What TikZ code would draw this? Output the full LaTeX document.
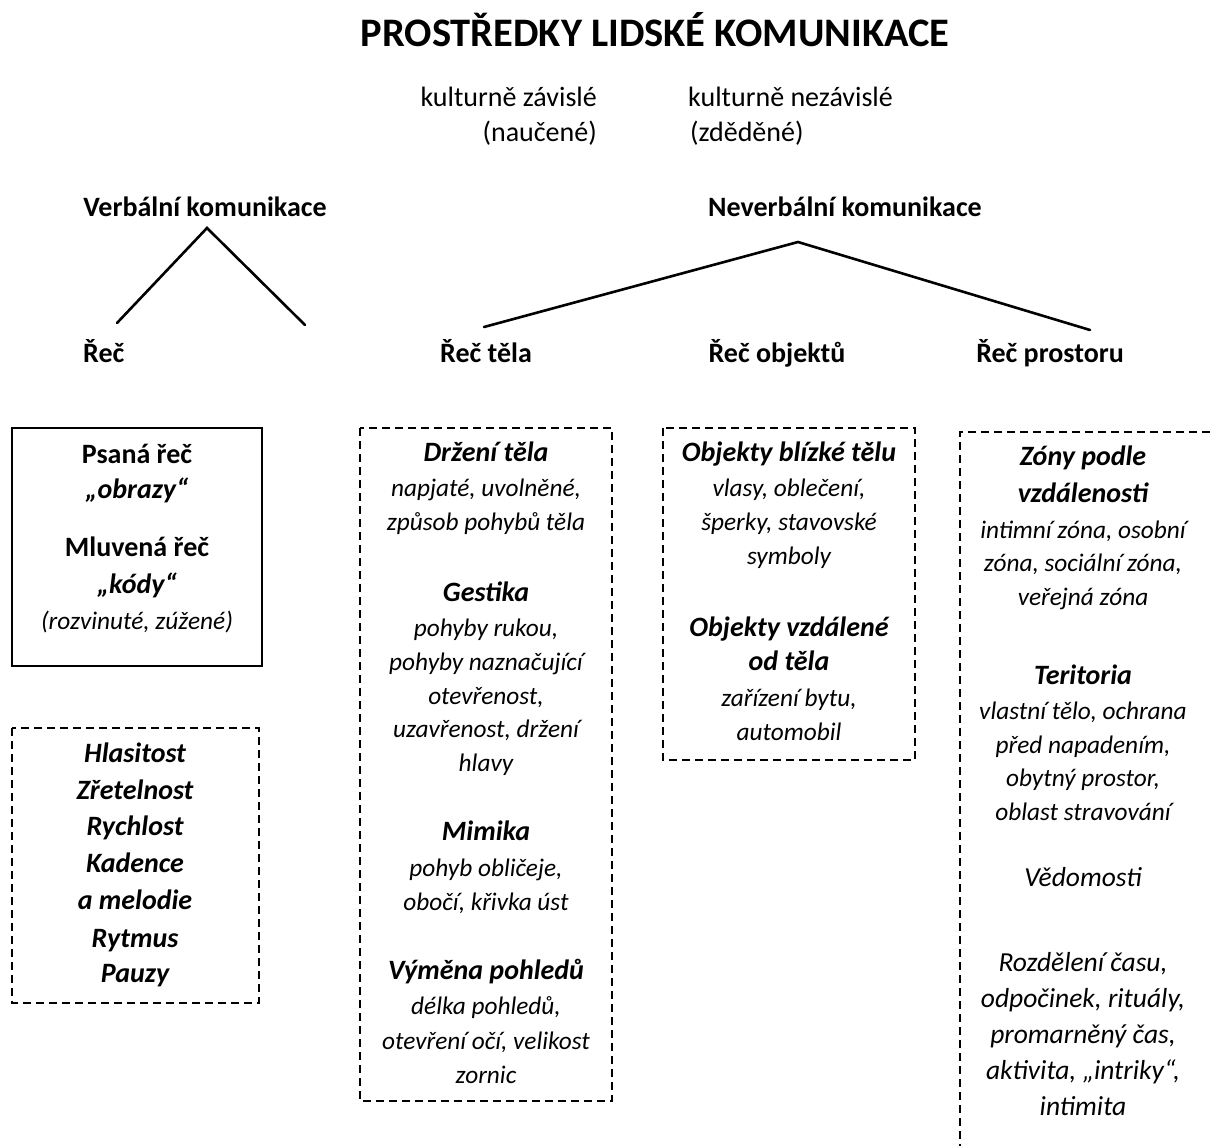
\documentclass[tikz,border=0pt]{standalone}
\usepackage{fontspec}
\setmainfont{Carlito}
\usepackage{tikz}
\usetikzlibrary{positioning}
\tikzset{
  ttl/.style={font=\bfseries\fontsize{40.5}{48}\selectfont, anchor=base, inner sep=0pt},
  cat/.style={font=\bfseries\fontsize{28}{34}\selectfont, anchor=base, inner sep=0pt},
  plain/.style={font=\fontsize{28}{34}\selectfont, anchor=base, inner sep=0pt},
  head/.style={font=\bfseries\itshape\fontsize{28}{34}\selectfont, anchor=base, inner sep=0pt},
  desc/.style={font=\itshape\fontsize{25.3}{30}\selectfont, anchor=base, inner sep=0pt},
  descL/.style={desc, font=\itshape\fontsize{27.5}{33}\selectfont},
  branch/.style={line width=2.6pt, line cap=round},
  boxline/.style={line width=1.3pt},
  dboxline/.style={boxline, dash pattern=on 8pt off 5pt},
}

\begin{document}
\begin{tikzpicture}[x=1pt, y=-1pt]
  \useasboundingbox[fill=white] (0,0) rectangle (1210,1146);
  % title and the two kinds of means
  \node[ttl] (title) at (655,46) {PROSTŘEDKY LIDSKÉ KOMUNIKACE};
  \node[plain, anchor=base east] (zav) at (597,106) {kulturně závislé};
  \node[plain, anchor=base east] (zavB) at (597,141) {(naučené)};
  \node[plain, anchor=base west] (nezav) at (688,106) {kulturně nezávislé};
  \node[plain, anchor=base west] (nezavB) at (690,141) {(zděděné)};

  \node[cat] (verb) at (205,216) {Verbální komunikace};
  \node[cat] (never) at (845,216) {Neverbální komunikace};
  \node[cat, anchor=base west] (rec) at (83,362) {Řeč};
  \node[cat] (telo) at (486,362) {Řeč těla};
  \node[cat] (obj) at (777,362) {Řeč objektů};
  \node[cat] (pros) at (1050,362) {Řeč prostoru};

  % branches
  \coordinate (vTop) at (207,228);
  \coordinate (vL) at (117,323);
  \coordinate (vR) at (305,325);
  \coordinate (nTop) at (798,242);
  \coordinate (nL) at (484,327);
  \coordinate (nR) at (1090,330);
  \draw[branch] (vL) -- (vTop) -- (vR);
  \draw[branch] (nL) -- (nTop) -- (nR);

  % frames
  \draw[boxline] (12,428) rectangle (262,666);
  \draw[dboxline] (12,728) rectangle (259,1003);
  \draw[dboxline] (360,428) rectangle (612,1101);
  \draw[dboxline] (663,428) rectangle (915,760);
  \draw[dboxline] (1210,432) -- (960,432) -- (960,1146);

  % Rec
  \node[cat] (psana) at (137,463) {Psaná řeč};
  \node[head] (obrazy) at (137,498) {„obrazy“};
  \node[cat] (mluv) at (137,556) {Mluvená řeč};
  \node[head] (kody) at (137,593) {„kódy“};
  \node[desc] (rozv) at (137,629) {(rozvinuté, zúžené)};
  \foreach \y/\t [count=\i] in {762/Hlasitost, 799/Zřetelnost, 835/Rychlost,
      872/Kadence, 909/a melodie, 947/Rytmus, 982/Pauzy}
    \node[head] (hlas\i) at (135,\y) {\t};

  % Rec tela
  \foreach \y/\t [count=\i] in {461/Držení těla, 601/Gestika, 840/Mimika, 979/Výměna pohledů}
    \node[head] (telaH\i) at (486,\y) {\t};
  \foreach \y/\t [count=\i] in {496/{napjaté, uvolněné,}, 530/způsob pohybů těla,
      636/{pohyby rukou,}, 670/pohyby naznačující, 704/{otevřenost,},
      737/{uzavřenost, držení}, 771/hlavy, 876/{pohyb obličeje,},
      910/{obočí, křivka úst}, 1014/{délka pohledů,}, 1049/{otevření očí, velikost},
      1083/zornic}
    \node[desc] (telaB\i) at (486,\y) {\t};

  % Rec objektu
  \foreach \y/\t [count=\i] in {461/Objekty blízké tělu, 636/Objekty vzdálené, 670/od těla}
    \node[head] (objH\i) at (789,\y) {\t};
  \foreach \y/\t [count=\i] in {496/{vlasy, oblečení,}, 530/{šperky, stavovské},
      564/symboly, 706/{zařízení bytu,}, 740/automobil}
    \node[desc] (objB\i) at (789,\y) {\t};

  % Rec prostoru
  \foreach \y/\t [count=\i] in {465/Zóny podle, 502/vzdálenosti, 684/Teritoria}
    \node[head] (prosH\i) at (1083,\y) {\t};
  \foreach \y/\t [count=\i] in {538/{intimní zóna, osobní}, 571/{zóna, sociální zóna,},
      605/veřejná zóna, 719/{vlastní tělo, ochrana}, 753/{před napadením,},
      786/{obytný prostor,}, 820/oblast stravování}
    \node[desc] (prosB\i) at (1083,\y) {\t};
  \foreach \y/\t [count=\i] in {886/Vědomosti, 971/{Rozdělení času,},
      1007/{odpočinek, rituály,}, 1043/{promarněný čas,},
      1079/{aktivita, „intriky“,}, 1115/intimita}
    \node[descL] (prosC\i) at (1083,\y) {\t};
\end{tikzpicture}
\end{document}
